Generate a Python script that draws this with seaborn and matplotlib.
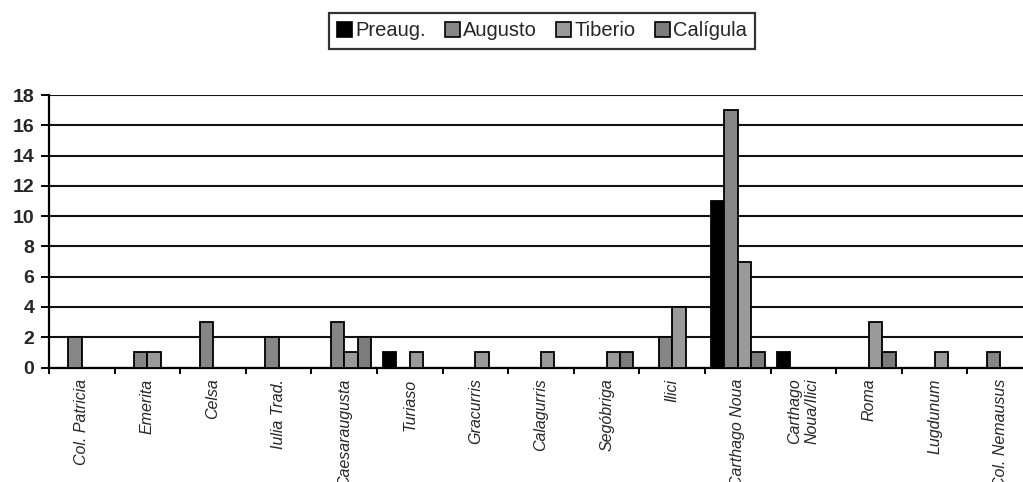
import matplotlib
matplotlib.use("Agg")
import matplotlib.pyplot as plt
from matplotlib.ticker import FixedLocator
import pandas as pd
import seaborn as sns

categories = ["Col. Patricia", "Emerita", "Celsa", "Iulia Trad.", "Caesaraugusta",
              "Turiaso", "Gracurris", "Calagurris", "Segóbriga", "Ilici",
              "Carthago Noua", "Carthago\nNoua/Ilici", "Roma", "Lugdunum", "Col. Nemausus"]
series = ["Preaug.", "Augusto", "Tiberio", "Calígula"]
preaug = [0, 0, 0, 0, 0, 1, 0, 0, 0, 0, 11, 1, 0, 0, 0]
augusto = [2, 1, 3, 2, 3, 0, 0, 0, 0, 2, 17, 0, 0, 0, 1]
tiberio = [0, 1, 0, 0, 1, 1, 1, 1, 1, 4, 7, 0, 3, 1, 0]
caligula = [0, 0, 0, 0, 2, 0, 0, 0, 1, 0, 1, 0, 1, 0, 0]
colors = ["#000000", "#868686", "#9a9a9a", "#7c7c7c"]

rows = []
for name, vals in zip(series, [preaug, augusto, tiberio, caligula]):
    for cat, v in zip(categories, vals):
        if v:
            rows.append({"ciudad": cat, "periodo": name, "n": v})
df = pd.DataFrame(rows)

sns.set_theme(style="white")
plt.rcParams["font.family"] = ["Liberation Sans", "DejaVu Sans"]

fig = plt.figure(figsize=(10.23, 4.82), dpi=100)
W, H = 1023, 482
x0, x1 = 49, 49 + 65.6 * 15
y_top, y_bot = 95, 367.5
ax = fig.add_axes([x0 / W, 1 - y_bot / H, (x1 - x0) / W, (y_bot - y_top) / H])

sns.barplot(data=df, x="ciudad", y="n", hue="periodo", order=categories,
            hue_order=series, palette=colors, width=0.82, dodge=True,
            edgecolor="black", linewidth=1.3, errorbar=None, ax=ax, zorder=3)

ax.set_xlim(-0.5, len(categories) - 0.5)
ax.set_ylim(0, 18)
ax.set_yticks(range(0, 19, 2))
ax.set_xlabel("")
ax.set_ylabel("")
ax.set_axisbelow(True)
ax.yaxis.grid(True, color="#111111", linewidth=1.5)
ax.xaxis.grid(False)

for s in ["top", "right"]:
    ax.spines[s].set_visible(False)
for s in ["left", "bottom"]:
    ax.spines[s].set_color("black")
    ax.spines[s].set_linewidth(1.6)

ax.tick_params(axis="y", which="major", left=True, length=5.5, width=1.4,
               color="black", labelsize=14, pad=5)
for lab in ax.get_yticklabels():
    lab.set_fontweight("bold")

ax.xaxis.set_minor_locator(FixedLocator([i - 0.5 for i in range(len(categories) + 1)]))
ax.tick_params(axis="x", which="minor", bottom=True, length=4.5, width=1.4,
               color="black", direction="out")
ax.tick_params(axis="x", which="major", bottom=False, length=0, pad=8)
ax.set_xticks(range(len(categories)))
ax.set_xticklabels(categories, rotation=90, fontsize=11.5, fontstyle="italic",
                   va="top", ha="center")
for lab in ax.get_xticklabels():
    lab.set_multialignment("right")

handles, labels = ax.get_legend_handles_labels()
if ax.get_legend() is not None:
    ax.get_legend().remove()
leg = fig.legend(handles, labels, loc="center", bbox_to_anchor=(542 / W, 1 - 31 / H),
                 ncol=4, fontsize=14.5, frameon=True, fancybox=False,
                 handlelength=0.75, handleheight=0.75, handletextpad=0.15,
                 columnspacing=0.95, borderpad=0.4, borderaxespad=0)
leg.get_frame().set_edgecolor("black")
leg.get_frame().set_linewidth(1.6)
for p in leg.get_patches():
    p.set_edgecolor("black")
    p.set_linewidth(1.2)

fig.savefig("out.png", dpi=100)
